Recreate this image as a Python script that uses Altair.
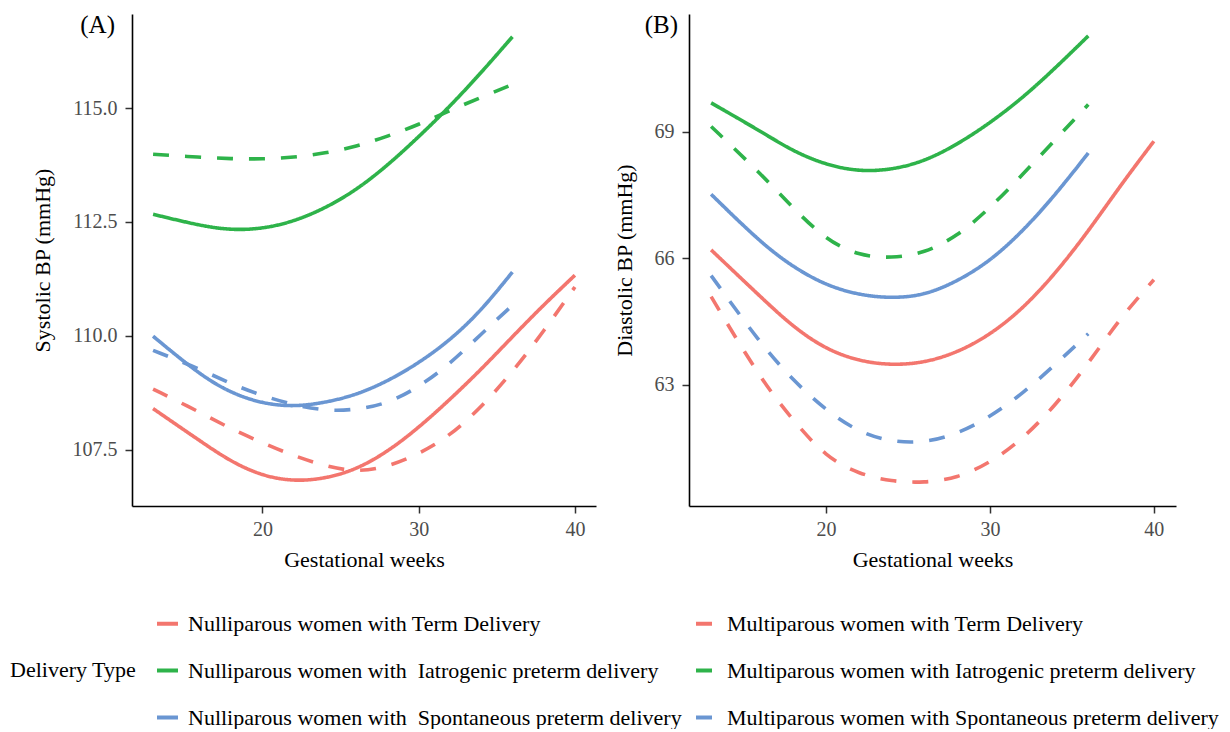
import altair as alt
import pandas as pd

FONT = "Liberation Serif"

weeks_term = [13, 16, 18, 20, 22, 24, 26, 28, 30, 32, 34, 36, 38, 40]
weeks_preterm = [13, 16, 18, 20, 22, 24, 26, 28, 30, 32, 34, 36]

# legend order: column 1 (nulliparous) then column 2 (multiparous)
series = [
    "Nulliparous women with Term Delivery",
    "Nulliparous women with \u00a0Iatrogenic preterm delivery",
    "Nulliparous women with \u00a0Spontaneous preterm delivery",
    "Multiparous women with Term Delivery",
    "Multiparous women with Iatrogenic preterm delivery",
    "Multiparous women with Spontaneous preterm delivery",
]
colors = ["#F3766E", "#2EB34A", "#6A96D2", "#F3766E", "#2EB34A", "#6A96D2"]
dashes = [[1, 0], [1, 0], [1, 0], [16, 16], [16, 16], [16, 16]]

# Panel A: Systolic BP (mmHg)
sbp_null_term = [108.40, 107.69, 107.23, 106.92, 106.80, 106.86, 107.06, 107.45, 107.98, 108.60, 109.26, 109.98, 110.68, 111.33]
sbp_multi_term = [108.83, 108.32, 107.95, 107.65, 107.36, 107.14, 107.00, 107.12, 107.40, 107.80, 108.43, 109.20, 110.10, 111.07]
sbp_null_iat = [112.67, 112.42, 112.32, 112.35, 112.51, 112.80, 113.20, 113.74, 114.37, 115.04, 115.78, 116.57]
sbp_multi_iat = [113.99, 113.92, 113.89, 113.88, 113.92, 114.01, 114.16, 114.38, 114.64, 114.95, 115.24, 115.52]
sbp_null_spon = [109.99, 109.14, 108.74, 108.51, 108.44, 108.53, 108.70, 109.00, 109.40, 109.90, 110.55, 111.40]
sbp_multi_spon = [109.68, 109.27, 108.94, 108.68, 108.48, 108.35, 108.37, 108.51, 108.87, 109.38, 110.04, 110.67]

# Panel B: Diastolic BP (mmHg)
dbp_null_term = [66.20, 65.09, 64.37, 63.84, 63.56, 63.46, 63.52, 63.76, 64.18, 64.80, 65.64, 66.64, 67.75, 68.78]
dbp_multi_term = [65.09, 63.14, 62.15, 61.28, 60.88, 60.70, 60.67, 60.78, 61.14, 61.71, 62.51, 63.50, 64.61, 65.49]
dbp_null_iat = [69.69, 69.02, 68.54, 68.22, 68.06, 68.10, 68.30, 68.70, 69.21, 69.81, 70.52, 71.28]
dbp_multi_iat = [69.13, 68.02, 67.19, 66.44, 66.06, 66.00, 66.12, 66.52, 67.19, 67.99, 68.82, 69.65]
dbp_null_spon = [67.52, 66.38, 65.79, 65.36, 65.13, 65.05, 65.12, 65.45, 65.93, 66.64, 67.51, 68.50]
dbp_multi_spon = [65.59, 63.98, 63.10, 62.39, 61.87, 61.64, 61.62, 61.83, 62.23, 62.79, 63.48, 64.21]

x_ticks = [20, 30, 40]
sbp_ticks = [107.5, 110.0, 112.5, 115.0]
dbp_ticks = [63, 66, 69]


def frame(groups):
    rows = []
    for name, wk, vals in groups:
        for w, v in zip(wk, vals):
            rows.append({"series": name, "week": w, "value": v})
    return pd.DataFrame(rows)


df_a = frame([
    (series[0], weeks_term, sbp_null_term),
    (series[3], weeks_term, sbp_multi_term),
    (series[1], weeks_preterm, sbp_null_iat),
    (series[4], weeks_preterm, sbp_multi_iat),
    (series[2], weeks_preterm, sbp_null_spon),
    (series[5], weeks_preterm, sbp_multi_spon),
])
df_b = frame([
    (series[0], weeks_term, dbp_null_term),
    (series[3], weeks_term, dbp_multi_term),
    (series[1], weeks_preterm, dbp_null_iat),
    (series[4], weeks_preterm, dbp_multi_iat),
    (series[2], weeks_preterm, dbp_null_spon),
    (series[5], weeks_preterm, dbp_multi_spon),
])

legend = alt.Legend(
    title="Delivery Type",
    orient="none",
    legendX=-122,
    legendY=597,
    columns=2,
    symbolType="stroke",
    symbolStrokeWidth=4,
    symbolSize=441,
    symbolDash={"expr": "indexof(datum.value, 'Multi') === 0 ? [6, 7] : [1, 0]"},
    labelFont=FONT,
    labelFontSize=22,
    labelColor="black",
    labelLimit=1000,
    labelOffset=8,
    titleFont=FONT,
    titleFontSize=22,
    titleFontWeight="normal",
    titleColor="black",
    titleOrient="left",
    titleAnchor="middle",
    titleBaseline="middle",
    titlePadding=18,
    rowPadding=23,
    columnPadding=6,
)


def panel(df, ydomain, yticks, yfmt, ytitle, tag, tag_dx, width):
    lines = alt.Chart(df).mark_line(strokeWidth=3.6, interpolate="basis").encode(
        x=alt.X(
            "week:Q",
            scale=alt.Scale(domain=[11.65, 41.35], nice=False, zero=False),
            axis=alt.Axis(values=x_ticks, title="Gestational weeks", format="d",
                          labelPadding=6, titlePadding=10),
        ),
        y=alt.Y(
            "value:Q",
            scale=alt.Scale(domain=ydomain, nice=False, zero=False),
            axis=alt.Axis(values=yticks, title=ytitle, format=yfmt,
                          labelPadding=8, titlePadding=18),
        ),
        color=alt.Color("series:N", scale=alt.Scale(domain=series, range=colors), legend=legend),
        strokeDash=alt.StrokeDash("series:N", scale=alt.Scale(domain=series, range=dashes), legend=None),
    )
    tag_layer = alt.Chart(pd.DataFrame({"tag": [tag]})).mark_text(
        font=FONT, fontSize=25, align="right", baseline="alphabetic", color="black"
    ).encode(text="tag:N", x=alt.value(tag_dx), y=alt.value(19))
    return alt.layer(lines, tag_layer).properties(width=width, height=492)


pA = panel(df_a, [106.26, 117.07], sbp_ticks, ".1f", "Systolic BP (mmHg)", "(A)", -17, 464)
pB = panel(df_b, [60.12, 71.80], dbp_ticks, "d", "Diastolic BP (mmHg)", "(B)", -11, 487)

chart = alt.hconcat(pA, pB, spacing=17).configure(font=FONT).configure_view(
    stroke=None
).configure_axis(
    domainColor="black",
    domainWidth=1.6,
    tickColor="#333333",
    tickWidth=1.5,
    tickSize=7,
    labelFont=FONT,
    labelFontSize=20,
    labelColor="#4D4D4D",
    titleFont=FONT,
    titleFontSize=22,
    titleFontWeight="normal",
    titleColor="black",
    grid=False,
).properties(padding={"left": 2, "top": 5, "right": 0, "bottom": 0})

chart.save("out.html", embed_options={"renderer": "svg", "actions": False})
